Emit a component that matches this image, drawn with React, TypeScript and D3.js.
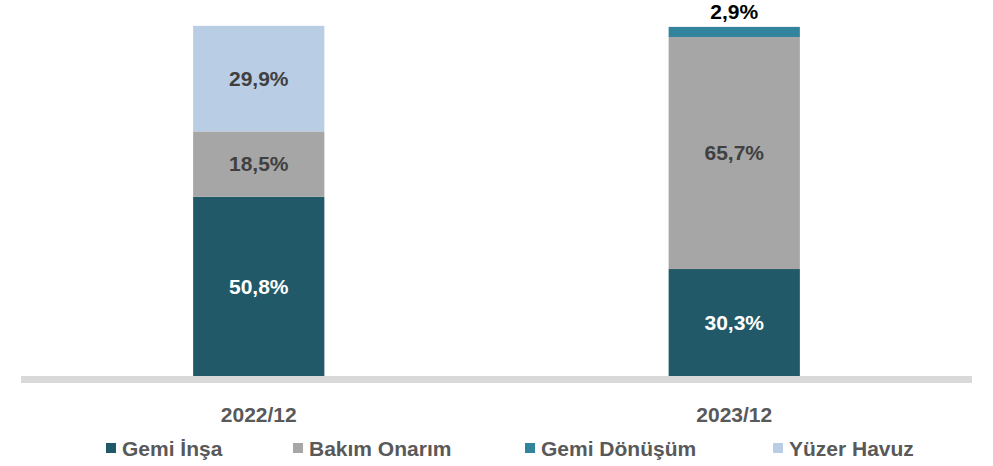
import React, { useEffect, useRef } from 'react';
import * as d3 from 'd3';

const periods = ['2022/12', '2023/12'];
const seriesNames = ['Gemi İnşa', 'Bakım Onarım', 'Gemi Dönüşüm', 'Yüzer Havuz'];
const gemiInsa = [50.8, 30.3];
const bakimOnarim = [18.5, 65.7];
const gemiDonusum = [0, 2.9];
const yuzerHavuz = [29.9, 0];

const width = 993;
const height = 466;
const baseline = 376;
const font = '"Liberation Sans", Arial, sans-serif';
const colors = ['#215968', '#a6a6a6', '#31849b', '#b9cde5'];
const labelColors = ['#ffffff', '#404040', '#000000', '#404040'];
const legendX = [106, 293, 525, 773];

const drawChart = (node) => {
	const svg = d3.select(node);
	svg.selectAll('*').remove();

	const series = [gemiInsa, bakimOnarim, gemiDonusum, yuzerHavuz];
	const rows = periods.map((p, i) => {
		const row = { period: p };
		seriesNames.forEach((name, k) => { row[name] = series[k][i]; });
		return row;
	});
	const stacked = d3.stack().keys(seriesNames)(rows);

	const x = d3.scaleBand().domain(periods)
		.range([21, 972])
		.paddingInner(0.724)
		.paddingOuter(0.362);
	const y = d3.scaleLinear().domain([0, 100])
		.range([baseline, 23]);

	const layers = svg.append('g')
		.selectAll('g')
		.data(stacked)
		.join('g')
		.attr('fill', (d, i) => colors[i]);

	layers.selectAll('rect')
		.data((d) => d.filter((s) => s[1] - s[0] > 0))
		.join('rect')
		.attr('x', (d) => x(d.data.period))
		.attr('width', x.bandwidth())
		.attr('y', (d) => y(d[1]))
		.attr('height', (d) => y(d[0]) - y(d[1]));

	// value labels: inside the segment, or above the bar when it is thin
	stacked.forEach((layer, i) => {
		layer.filter((s) => s[1] - s[0] > 0).forEach((s) => {
			const small = s[1] - s[0] < 5;
			svg.append('text')
				.attr('x', x(s.data.period) + (x.bandwidth() / 2))
				.attr('y', small ? y(s[1]) - 8 : (y(s[0]) + y(s[1])) / 2)
				.attr('dy', small ? 0 : '0.35em')
				.attr('text-anchor', 'middle')
				.attr('font-family', font)
				.attr('font-weight', 'bold')
				.attr('font-size', 21)
				.attr('fill', small ? '#000000' : labelColors[i])
				.text(`${ d3.format('.1f')(s[1] - s[0]).replace('.', ',') }%`);
		});
	});

	// base line
	svg.append('rect')
		.attr('x', 21)
		.attr('y', baseline)
		.attr('width', 951)
		.attr('height', 7)
		.attr('fill', '#d9d9d9');

	const axis = svg.append('g')
		.attr('transform', `translate(0, ${ baseline + 7 })`)
		.call(d3.axisBottom(x).tickSize(0)
			.tickPadding(24));
	axis.select('.domain').remove();
	axis.selectAll('text')
		.attr('font-family', font)
		.attr('font-weight', 'bold')
		.attr('font-size', 21)
		.attr('fill', '#595959');

	const legend = svg.append('g');
	seriesNames.forEach((name, i) => {
		legend.append('rect')
			.attr('x', legendX[i])
			.attr('y', 443)
			.attr('width', 10)
			.attr('height', 10)
			.attr('fill', colors[i]);
		legend.append('text')
			.attr('x', legendX[i] + 16)
			.attr('y', 456)
			.attr('font-family', font)
			.attr('font-weight', 'bold')
			.attr('font-size', 21)
			.attr('fill', '#595959')
			.text(name);
	});
};

const App = () => {
	const ref = useRef(null);

	useEffect(() => drawChart(ref.current), []);

	return (
		<svg
			ref={ ref }
			width={ width }
			height={ height }
			style={ { position: 'absolute', left: 0, top: 0, background: '#fff' } }
		/>
	);
};

export default App;
